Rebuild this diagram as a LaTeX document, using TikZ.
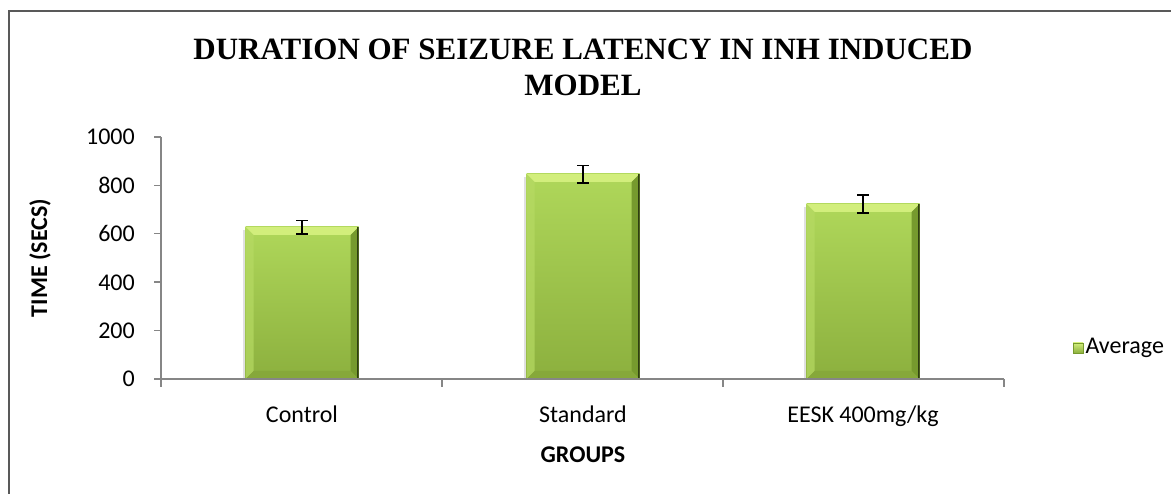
\documentclass[tikz,border=0pt]{standalone}
\usepackage{fontspec}
\setmainfont{Carlito}
\newfontfamily\titlefont{Liberation Serif}
\usetikzlibrary{calc}
\definecolor{barface}{HTML}{A6CF50}
\definecolor{bartop}{HTML}{AFD75A}
\definecolor{barbot}{HTML}{8CB03E}
\definecolor{beveltop}{HTML}{D2EE7C}
\definecolor{bevelleft}{HTML}{B6DA63}
\definecolor{bevelright}{HTML}{769A2E}
\definecolor{bevelbot}{HTML}{86A83A}
\definecolor{axisgray}{HTML}{868686}
\tikzset{
  barbox/.style={inner sep=0pt, outer sep=0pt, minimum width=113pt, anchor=south,
    path picture={
      \coordinate (nw) at (path picture bounding box.north west);
      \coordinate (ne) at (path picture bounding box.north east);
      \coordinate (sw) at (path picture bounding box.south west);
      \coordinate (se) at (path picture bounding box.south east);
      \fill[top color=bartop, bottom color=barbot] (sw) rectangle (ne);
      \fill[beveltop] (nw) -- (ne) -- ($(ne)+(-8pt,-8pt)$) -- ($(nw)+(8pt,-8pt)$) -- cycle;
      \fill[bevelleft, opacity=0.7] (nw) -- ($(nw)+(8pt,-8pt)$) -- ($(sw)+(8pt,8pt)$) -- (sw) -- cycle;
      \fill[bevelright] (ne) -- ($(ne)+(-8pt,-8pt)$) -- ($(se)+(-8pt,8pt)$) -- (se) -- cycle;
      \fill[bevelbot] (sw) -- ($(sw)+(8pt,8pt)$) -- ($(se)+(-8pt,8pt)$) -- (se) -- cycle;
      \draw[black!60!bevelright, line width=1.2pt] ($(ne)+(-0.6pt,0)$) -- ($(se)+(-0.6pt,0)$);
    }},
  errbar/.style={line width=1.6pt, black},
  axisline/.style={line width=1.4pt, axisgray},
  ticklabel/.style={font=\fontsize{24}{28}\selectfont, inner sep=0pt},
  axistitle/.style={font=\fontsize{24}{28}\selectfont\bfseries, inner sep=0pt},
  charttitle/.style={font=\titlefont\bfseries\fontsize{31}{36}\selectfont, align=center, inner sep=0pt},
  shadowbox/.style={fill=black, opacity=0.12}
}
\begin{document}
\begin{tikzpicture}[x=1pt,y=-1pt]
\useasboundingbox (0,0) rectangle (1171,494);
\fill[white] (0,0) rectangle (1171,494);
\draw[line width=1.3pt, black!65] (9,11) rectangle (1180,505);

% title
\node[charttitle] (title) at (583,67) {DURATION OF SEIZURE LATENCY IN INH INDUCED\\MODEL};

% axes
\coordinate (o) at (161,379);
\coordinate (ytop) at (161,137);
\coordinate (xend) at (1004,379);
\draw[axisline] (ytop) -- (161,387);
\draw[axisline] (o) -- (xend);
\foreach \v [count=\i from 0] in {0,200,400,600,800,1000} {
  \pgfmathsetmacro{\yy}{379-0.242*\v}
  \draw[axisline] (154,\yy) -- (161,\yy);
  \node[ticklabel, anchor=base east] (yl\i) at (135,\yy+8) {\v};
}
\foreach \xx in {442,723,1004} { \draw[axisline] (\xx,379) -- (\xx,387); }

% bars (shadows)
\foreach \cx/\v in {302/628, 583/847, 863/722} {
  \pgfmathsetmacro{\h}{0.242*\v}
  \fill[shadowbox] (\cx-59.5,379-\h+3) rectangle (\cx+56.5,379);
}
\node[barbox, minimum height=152pt] (b1) at (302,379) {};
\node[barbox, minimum height=205pt] (b2) at (583,379) {};
\node[barbox, minimum height=175pt] (b3) at (863,379) {};
\draw[axisline] (o) -- (xend);

% error bars
\foreach \b/\lo/\hi in {b1/7/6.5, b2/9/8.5, b3/9/9} {
  \coordinate (\b t) at ($(\b.north)+(0,\hi pt)$);
  \coordinate (\b d) at ($(\b.north)+(0,-\lo pt)$);
  \draw[errbar] (\b t) -- (\b d);
  \draw[errbar] ($(\b t)+(-6pt,0)$) -- ($(\b t)+(6pt,0)$);
  \draw[errbar] ($(\b d)+(-6pt,0)$) -- ($(\b d)+(6pt,0)$);
}

% category labels
\node[ticklabel, anchor=base] (c1) at (302,423) {Control};
\node[ticklabel, anchor=base] (c2) at (583,423) {Standard};
\node[ticklabel, anchor=base] (c3) at (863,423) {EESK 400mg/kg};
\node[axistitle, anchor=base] (xt) at (583,462) {GROUPS};
\node[axistitle, rotate=90] (yt) at (40,258) {TIME (SECS)};

% legend
\node[inner sep=0pt, minimum size=10pt, draw=bevelright, line width=0.6pt,
  top color=beveltop, bottom color=barbot] (lk) at (1078,348) {};
\node[ticklabel, anchor=west] (lt) at ($(lk.east)+(2pt,0)$) {Average};
\end{tikzpicture}
\end{document}
